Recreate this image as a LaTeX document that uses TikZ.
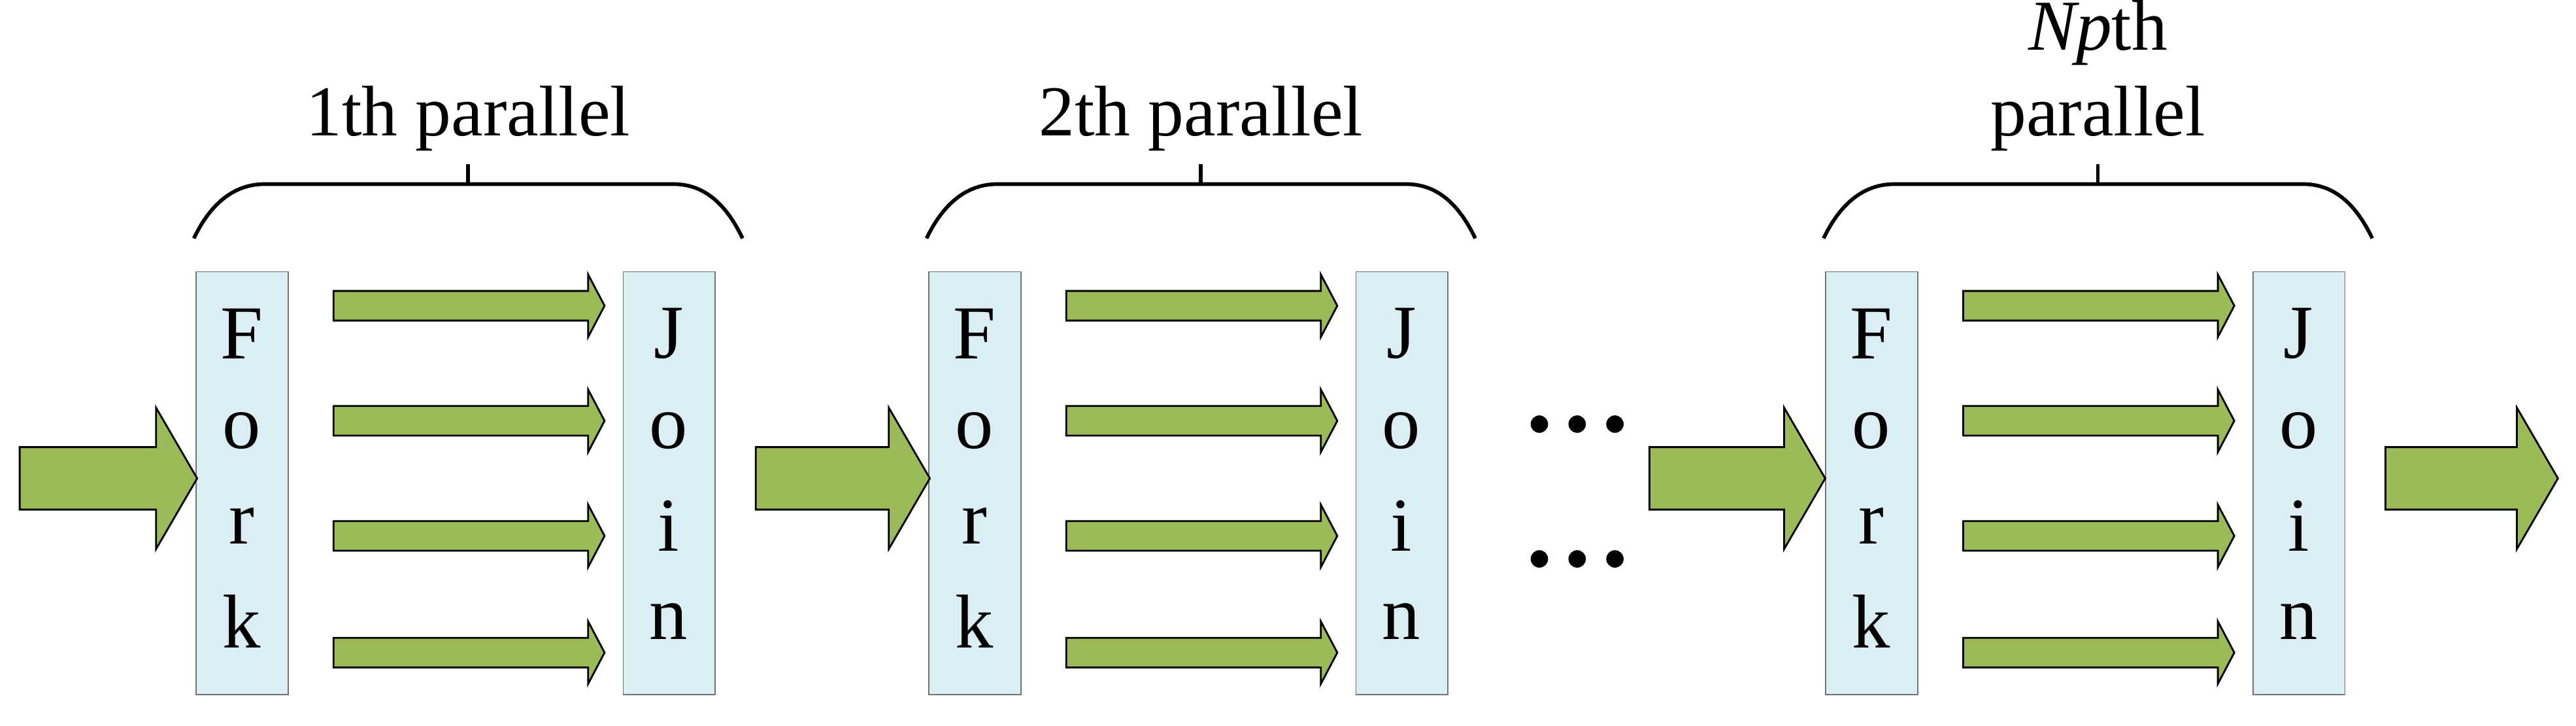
\documentclass[tikz,border=0pt]{standalone}
\usepackage{fontspec}
\setmainfont{Liberation Serif}
\begin{document}
\begin{tikzpicture}[x=0.025cm,y=-0.025cm,
  box/.style={draw=black!55,fill=boxc,line width=0.5pt,minimum width=1.4cm,minimum height=6.425cm,inner sep=0,anchor=north west},
  brace/.style={draw=black,line width=1.6pt},
  lab/.style={font=\fontsize{31}{37}\selectfont,align=center},
  let/.style={font=\fontsize{33}{36}\selectfont}]
\definecolor{ag}{RGB}{155,187,89}
\definecolor{boxc}{RGB}{219,238,244}
\tikzset{big/.style={draw=black,fill=ag,line width=0.8pt}}
\useasboundingbox (0,0) rectangle (1568,441.3);
\newcommand{\stage}[4]{% #1 fork x, #2 join x, #3 name, #4 label
  \node[box] (#3f) at (#1,165) {};
  \node[box] (#3j) at (#2,165) {};
  \foreach \l/\y in {F/203,o/262,r/320,k/378}{\node[let] at (#1+28,\y) {\l};}
  \foreach \l/\y in {J/203,o/262,i/320,n/378}{\node[let] at (#2+28,\y) {\l};}
  \foreach \y in {186,256,326,397}{
    \draw[big] (#1+84,\y-9) -- (#2-21,\y-9) -- (#2-21,\y-19) -- (#2-11,\y) -- (#2-21,\y+19) -- (#2-21,\y+9) -- (#1+84,\y+9) -- cycle;}
  \draw[brace] (#1-1,145) .. controls (#1+10,122) and (#1+25,112) .. (#1+42,112) -- (#2+31,112) .. controls (#2+48,112) and (#2+62,122) .. (#2+73,145);
  \coordinate (#3b) at ({(#1+#2+72)/2},112);
  \draw[brace] (#3b) -- ++(0,-12);
  \node[lab,anchor=south,inner sep=0] (#3l) at ([yshift=0.5cm]#3b) {#4};
}
\newcommand{\bigarrow}[3]{% x start, head tip x, name
  \coordinate (#3) at (#2,291);
  \draw[big] (#1,272) -- (#2-25,272) -- (#2-25,248) -- (#3) -- (#2-25,334) -- (#2-25,310) -- (#1,310) -- cycle;}
\stage{119}{379}{a}{1th parallel}
\stage{565}{825}{b}{2th parallel}
\stage{1111}{1371}{c}{\textit{Np}th\\parallel}
\bigarrow{12}{120}{i1}
\bigarrow{460}{566}{i2}
\bigarrow{1004}{1111}{i3}
\bigarrow{1452}{1557}{o3}
\foreach \x in {937,960,983}{
  \fill (\x,258) circle (5.3);
  \fill (\x,340) circle (5.3);}
\end{tikzpicture}
\end{document}
